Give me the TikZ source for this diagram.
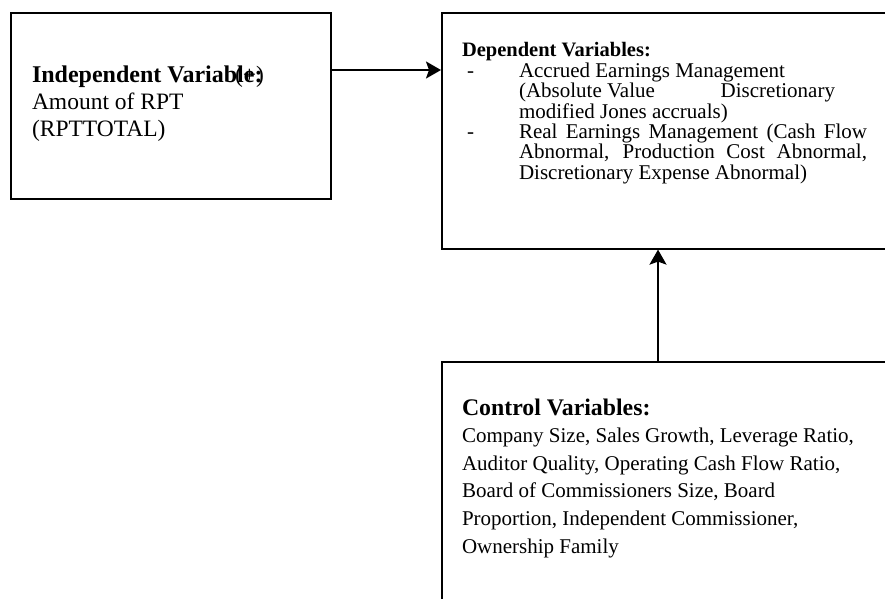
\documentclass[tikz,border=0pt]{standalone}
\usepackage{fontspec}
\setmainfont{Liberation Serif}
\usetikzlibrary{arrows.meta}
\begin{document}
\begin{tikzpicture}[x=1pt,y=-1pt,
  box/.style={draw=black, line width=1.6pt, fill=none, inner sep=0pt, anchor=north west},
  txt/.style={inner sep=0pt, outer sep=0pt, anchor=base west},
  arr/.style={line width=2pt, -{Stealth[length=15pt,width=17pt,inset=3pt]}},
  fL/.style={font=\fontsize{23.5}{27}\selectfont},
  fLb/.style={font=\fontsize{24}{27}\selectfont\bfseries},
  fD/.style={font=\fontsize{21}{24}\selectfont},
  fDb/.style={font=\fontsize{20.5}{24}\selectfont\bfseries},
  fC/.style={font=\fontsize{21}{24}\selectfont},
  fCb/.style={font=\fontsize{23.8}{27}\selectfont\bfseries}]
\useasboundingbox (0,0) rectangle (885,598);
\clip (0,0) rectangle (885,598);
\fill[white] (0,0) rectangle (885,598);
% boxes
\node[box, minimum width=320pt, minimum height=186pt] (indep) at (10,12) {};
\node[box, minimum width=460pt, minimum height=236pt] (dep) at (441,12) {};
\node[box, minimum width=460pt, minimum height=260pt] (ctrl) at (441,361) {};
% left box text
\node[txt, fLb] (t1) at (32,82) {Independent Variable:};
\node[txt, fL] (plus) at (235,82) {(+)};
\node[txt, fL] (t2) at (32,109) {Amount of RPT};
\node[txt, fL] (t3) at (32,136) {(RPTTOTAL)};
% dependent box text
\node[txt, fDb] (d0) at (462,56) {Dependent Variables:};
\node[txt, fD] (h1) at (467,77) {-};
\node[txt, fD] (d1) at (519,77) {Accrued Earnings Management};
\node[txt, fD] (d2) at (519,97) {\makebox[316pt][l]{(Absolute Value\hfill Discretionary}};
\node[txt, fD] (d3) at (519,118) {modified Jones accruals)};
\node[txt, fD] (h2) at (467,138) {-};
\node[txt, fD] (d4) at (519,138) {\makebox[348pt][s]{Real Earnings Management (Cash Flow}};
\node[txt, fD] (d5) at (519,158) {\makebox[348pt][s]{Abnormal, Production Cost Abnormal,}};
\node[txt, fD] (d6) at (519,179) {Discretionary Expense Abnormal)};
% control box text
\node[txt, fCb] (c0) at (462,415) {Control Variables:};
\node[txt, fC] (c1) at (462,442) {Company Size, Sales Growth, Leverage Ratio,};
\node[txt, fC] (c2) at (462,470) {Auditor Quality, Operating Cash Flow Ratio,};
\node[txt, fC] (c3) at (462,497) {Board of Commissioners Size, Board};
\node[txt, fC] (c4) at (462,525) {Proportion, Independent Commissioner,};
\node[txt, fC] (c5) at (462,553) {Ownership Family};
% connectors
\draw[arr] (indep.east |- 0,70) -- (dep.west |- 0,70);
\draw[arr] (ctrl.north -| 658,0) -- (dep.south -| 658,0);
\end{tikzpicture}
\end{document}
